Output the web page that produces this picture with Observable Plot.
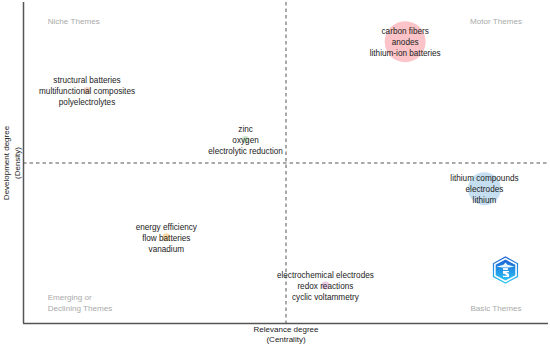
<!DOCTYPE html>
<html>
<head>
<meta charset="utf-8">
<script src="https://cdn.jsdelivr.net/npm/d3@7"></script>
<script src="https://cdn.jsdelivr.net/npm/@observablehq/plot@0.6"></script>
<style>
html,body{margin:0;padding:0;background:#fff}
svg{display:block}
</style>
</head>
<body>
<div id="chart"></div>
<script>
const clusters = ["motor", "niche", "central", "basic", "redox", "flow"];
const clusterLabels = [
  "carbon fibers\nanodes\nlithium-ion batteries",
  "structural batteries\nmultifunctional composites\npolyelectrolytes",
  "zinc\noxygen\nelectrolytic reduction",
  "lithium compounds\nelectrodes\nlithium",
  "electrochemical electrodes\nredox reactions\ncyclic voltammetry",
  "energy efficiency\nflow batteries\nvanadium"
];
const centrality = [72.7, 12.1, 42.3, 87.8, 57.5, 27.2];
const density = [87.8, 72.6, 57.3, 42.0, 11.8, 26.9];
const frequency = [420, 12, 13, 272, 16, 16];
const clusterColors = ["#fcc4c8", "#f5d0c0", "#c8e6c8", "#c5dff0", "#eccbe8", "#fbd9a8"];

const leftThemes = ["Niche Themes", "Emerging or\nDeclining Themes"];
const leftThemeX = [4.6, 4.6];
const leftThemeY = [94.4, 6.7];
const rightThemes = ["Motor Themes", "Basic Themes"];
const rightThemeX = [90, 90];
const rightThemeY = [94.4, 5];

const xTitle = "Relevance degree\n(Centrality)";
const yTitle = "Development degree\n(Density)";
const midX = 50, midY = 50;
const logoX = 91.9, logoY = 16.5;

const rows = clusters.map((c, i) => ({
  c, label: clusterLabels[i], x: centrality[i], y: density[i], f: frequency[i]
}));
const themesL = leftThemes.map((t, i) => ({t, x: leftThemeX[i], y: leftThemeY[i]}));
const themesR = rightThemes.map((t, i) => ({t, x: rightThemeX[i], y: rightThemeY[i]}));

function logoMark(index, {x, y}) {
  const cx = x(logoX), cy = y(logoY);
  const ns = "http://www.w3.org/2000/svg";
  const g = document.createElementNS(ns, "g");
  g.setAttribute("transform", `translate(${cx},${cy})`);
  g.innerHTML = `
    <defs><linearGradient id="logoGrad" x1="0" y1="0" x2="0" y2="1">
      <stop offset="0" stop-color="#1a62d6"/><stop offset="1" stop-color="#2cc4f5"/>
    </linearGradient></defs>
    <polygon points="0,-13 12,-6.5 12,6.5 0,13 -12,6.5 -12,-6.5" fill="none" stroke="url(#logoGrad)" stroke-width="1.2"/>
    <polygon points="0,-10.5 9.8,-5.2 9.8,5.2 0,10.5 -9.8,5.2 -9.8,-5.2" fill="url(#logoGrad)"/>
    <path d="M-9,-3.4 L-2,-5.4 L0,-7.5 L2,-5.4 L9,-3.4 L3,-2.6 L-3,-2.6 Z" fill="#eaf6ff"/>
    <path d="M-2.5,-2 L2.5,-2 L2.5,0 L-2.5,0 Z" fill="#ffffff" opacity="0.9"/>
    <path d="M-2.5,1 L3.5,1 L3.5,2.2 L0.5,2.2 L3.5,4 L3.5,7 L-2.5,7 L-2.5,5.8 L2,5.8 L-1,3.6 L-2.5,3.6 Z" fill="#ffffff"/>`;
  return g;
}

const plot = Plot.plot({
  width: 550,
  height: 345,
  marginLeft: 23,
  marginRight: 2,
  marginTop: 2,
  marginBottom: 22,
  style: {fontFamily: "'Liberation Sans', Arial, sans-serif", background: "#fff", overflow: "visible"},
  x: {domain: [0, 100], axis: null},
  y: {domain: [0, 100], axis: null},
  r: {type: "sqrt", domain: [0, 420], range: [0, 20.5]},
  color: {domain: clusters, range: clusterColors},
  marks: [
    Plot.dot(rows, {x: "x", y: "y", r: "f", fill: "c"}),
    Plot.ruleX([midX], {stroke: "#555", strokeWidth: 1, strokeDasharray: "3.5,3"}),
    Plot.ruleY([midY], {stroke: "#555", strokeWidth: 1, strokeDasharray: "3.5,3"}),
    Plot.ruleX([0], {stroke: "#555", strokeWidth: 1.5}),
    Plot.ruleY([0], {stroke: "#555", strokeWidth: 1.5}),
    Plot.text(rows, {x: "x", y: "y", text: "label", fill: "#222", fontSize: 8.2, lineHeight: 1.34, textAnchor: "middle"}),
    Plot.text(themesL, {x: "x", y: "y", text: "t", textAnchor: "start", fill: "#aaa", fontSize: 8.1, lineHeight: 1.36}),
    Plot.text(themesR, {x: "x", y: "y", text: "t", textAnchor: "middle", fill: "#aaa", fontSize: 8.1, lineHeight: 1.36}),
    Plot.text([xTitle], {x: [midX], y: [0], text: d => d, fill: "#222", fontSize: 8, lineHeight: 1.2, lineAnchor: "top", dy: 2}),
    Plot.text([yTitle], {x: [0], y: [midY], text: d => d, fill: "#222", fontSize: 8, lineHeight: 1.3, rotate: -90, dx: -12.5}),
    logoMark
  ]
});
document.getElementById("chart").appendChild(plot);
</script>
</body>
</html>
